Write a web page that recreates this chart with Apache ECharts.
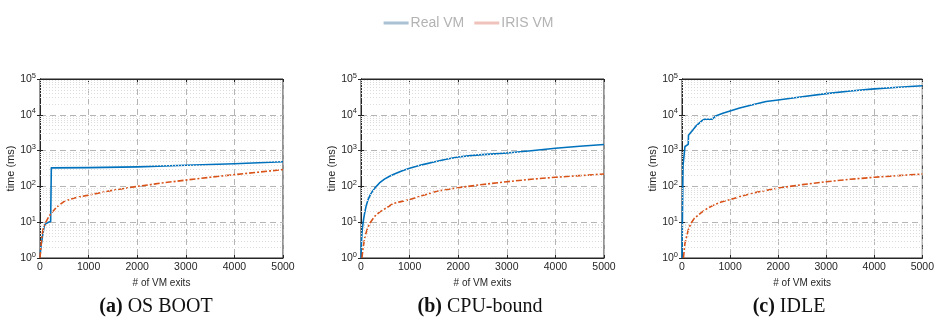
<!DOCTYPE html>
<html><head><meta charset="utf-8">
<script src="https://cdn.jsdelivr.net/npm/echarts@6/dist/echarts.min.js"></script>
<style>html,body{margin:0;padding:0;background:#fff}#c{width:937px;height:324px}</style>
</head><body><div id="c"></div>
<script>
// ---- data ----
var seriesNames = ['Real VM', 'IRIS VM'];
var xTicks = [0, 1000, 2000, 3000, 4000, 5000];
var yTickExponents = [0, 1, 2, 3, 4, 5];
var minorGrid = [2,3,4,5,6,7,8,9,20,30,40,50,60,70,80,90,200,300,400,500,600,700,800,900,
  2000,3000,4000,5000,6000,7000,8000,9000,20000,30000,40000,50000,60000,70000,80000,90000];
var captionsTag = ['(a)', '(b)', '(c)'];
var captionsText = ['OS BOOT', 'CPU-bound', 'IDLE'];

// (a) OS BOOT
var bootRealX = [0, 5, 15, 28, 41, 60, 80, 96, 150, 219, 233, 233, 1000, 2000, 3000, 4000, 5000];
var bootRealY = [1, 1.3, 1.8, 2.5, 3.2, 4.8, 6.8, 8.5, 9.6, 10.5, 11, 330, 335, 350, 390, 430, 490];
var bootIrisX = [0, 6, 14, 30, 45, 62, 90, 120, 170, 233, 350, 507, 750, 1000, 1250, 1500, 1750, 2000, 2500, 3000, 3500, 4000, 4500, 5000];
var bootIrisY = [1, 1.3, 1.7, 3, 4.5, 6.2, 8, 10, 13.5, 18, 27, 39, 49, 57, 67, 78, 88, 100, 124, 150, 180, 213, 250, 295];
// (b) CPU-bound
var cpuRealX = [0, 4, 8, 14, 20, 30, 40, 55, 75, 105, 143, 200, 279, 380, 483, 587, 687, 850, 1000, 1250, 1500, 1750, 2000, 2250, 2500, 2750, 3000, 3500, 4000, 4500, 5000];
var cpuRealY = [1, 1.6, 2.5, 3.6, 4.9, 7, 9, 12.5, 18, 28, 42, 62, 88, 125, 160, 192, 222, 275, 320, 400, 480, 575, 665, 725, 770, 810, 860, 990, 1160, 1320, 1480];
var cpuIrisX = [20, 40, 82, 130, 184, 280, 388, 520, 660, 800, 1000, 1250, 1578, 2000, 2500, 3000, 3500, 4000, 4500, 5000];
var cpuIrisY = [1, 1.8, 4, 6.5, 9.5, 14.5, 19.4, 25, 33, 37, 43, 55, 74, 92, 113, 135, 158, 180, 200, 222];
// (c) IDLE
var idleRealX = [0, 12, 18, 22, 60, 62, 130, 135, 175, 230, 300, 411, 470, 620, 700, 850, 1000, 1200, 1470, 1750, 2000, 2500, 3000, 3500, 4000, 4500, 5000];
var idleRealY = [1, 1, 150, 400, 420, 1300, 1500, 2700, 2900, 3800, 5000, 6800, 7500, 7500, 9200, 11000, 12800, 15500, 19000, 23500, 26000, 32000, 39000, 46000, 53000, 59000, 65000];
var idleIrisX = [30, 60, 129, 184, 252, 388, 520, 660, 800, 1000, 1250, 1544, 2000, 2500, 3000, 3500, 4000, 4500, 5000];
var idleIrisY = [1, 2.5, 6, 9.2, 12.6, 18, 24, 30, 36, 43, 54, 68, 90, 112, 135, 158, 180, 200, 222];

var panels = [
  [bootRealX, bootRealY, bootIrisX, bootIrisY],
  [cpuRealX, cpuRealY, cpuIrisX, cpuIrisY],
  [idleRealX, idleRealY, idleIrisX, idleIrisY]
];

function pairs(xs, ys) { return xs.map(function (x, i) { return [x, ys[i]]; }); }

var BLUE = '#0072BD', ORANGE = '#D95319', INK = '#262626';
var lefts = [40, 361, 682];
var capCenters = [151, 475, 784];
var font = '"Liberation Sans", Arial, sans-serif';
var serif = '"Liberation Serif", "DejaVu Serif", serif';
var dashed = {show: true, lineStyle: {color: '#b5b5b5', type: [6, 4], width: 1}};
var tick = {show: true, inside: true, length: 3, lineStyle: {color: INK}};

var grids = [], xAxes = [], yAxes = [], series = [], titles = [];
lefts.forEach(function (l, i) {
  grids.push({left: l, top: 79, width: 243, height: 179, show: true, borderColor: INK, borderWidth: 1, backgroundColor: 'transparent'});
  xAxes.push({
    type: 'value', gridIndex: i, min: 0, max: 5000, interval: 1000, position: 'bottom',
    name: '# of VM exits', nameLocation: 'middle', nameGap: 19,
    nameTextStyle: {fontFamily: font, fontSize: 10, color: INK},
    axisLine: {show: true, lineStyle: {color: INK}},
    axisTick: tick,
    axisLabel: {fontFamily: font, fontSize: 10.5, color: INK, margin: 4,
      formatter: function (v) { return String(v); }},
    splitLine: dashed
  });
  xAxes.push({
    type: 'value', gridIndex: i, min: 0, max: 5000, interval: 1000, position: 'top',
    axisLine: {show: true, lineStyle: {color: INK}}, axisTick: tick,
    axisLabel: {show: false}, splitLine: {show: false}
  });
  yAxes.push({
    type: 'log', logBase: 10, gridIndex: i, min: 1, max: 100000, position: 'left',
    name: 'time (ms)', nameLocation: 'middle', nameGap: 22, nameRotate: 90,
    nameTextStyle: {fontFamily: font, fontSize: 11, color: INK},
    axisLine: {show: true, lineStyle: {color: INK}},
    axisTick: tick,
    axisLabel: {
      margin: 4,
      formatter: function (v) {
        var e = Math.round(Math.log(v) / Math.LN10);
        return '{b|10}{s|' + e + '}';
      },
      rich: {
        b: {fontFamily: font, fontSize: 10.5, color: INK},
        s: {fontFamily: font, fontSize: 7.5, color: INK, padding: [0, 0, 7, 0]}
      }
    },
    splitLine: dashed
  });
  yAxes.push({
    type: 'log', logBase: 10, gridIndex: i, min: 1, max: 100000, position: 'right',
    axisLine: {show: true, lineStyle: {color: INK}}, axisTick: tick,
    axisLabel: {show: false}, splitLine: {show: false}
  });
  series.push({
    name: 'minor' + i, type: 'line', xAxisIndex: 2 * i, yAxisIndex: 2 * i, data: [], silent: true, z: 1,
    markLine: {
      silent: true, symbol: 'none', label: {show: false}, animation: false,
      lineStyle: {color: '#dcdcdc', type: [1, 2], width: 1},
      data: minorGrid.map(function (v) { return {yAxis: v}; })
    }
  });
  var p = panels[i];
  series.push({
    name: seriesNames[0], type: 'line', xAxisIndex: 2 * i, yAxisIndex: 2 * i, data: pairs(p[0], p[1]),
    symbol: 'none', smooth: false, z: 3, lineStyle: {color: BLUE, width: 1.6, join: 'round'}, itemStyle: {color: BLUE}
  });
  series.push({
    name: seriesNames[1], type: 'line', xAxisIndex: 2 * i, yAxisIndex: 2 * i, data: pairs(p[2], p[3]),
    symbol: 'none', smooth: false, z: 4, lineStyle: {color: ORANGE, width: 1.6, type: [6, 2, 2, 2]}, itemStyle: {color: ORANGE}
  });
  titles.push({
    text: '{t|' + captionsTag[i] + '} {n|' + captionsText[i] + '}',
    left: capCenters[i], top: 292, textAlign: 'center',
    textStyle: {fontWeight: 'normal', fontFamily: serif, fontSize: 20, rich: {
      t: {fontFamily: serif, fontSize: 20, fontWeight: 'bold', color: '#111'},
      n: {fontFamily: serif, fontSize: 20, fontWeight: 'normal', color: '#111'}
    }}
  });
});

var chart = echarts.init(document.getElementById('c'), null, {renderer: 'canvas'});
chart.setOption({
  animation: false,
  title: titles,
  legend: {
    top: 11, left: 'center', itemWidth: 25, itemHeight: 3, itemGap: 10,
    textStyle: {fontFamily: font, fontSize: 14, color: '#b3b3b3', padding: [0, 0, 0, -3]},
    data: [
      {name: seriesNames[0], icon: 'rect', itemStyle: {color: '#a9c1d3', borderWidth: 0}},
      {name: seriesNames[1], icon: 'rect', itemStyle: {color: '#efc3bb', borderWidth: 0}}
    ]
  },
  grid: grids, xAxis: xAxes, yAxis: yAxes, series: series
});
</script></body></html>
